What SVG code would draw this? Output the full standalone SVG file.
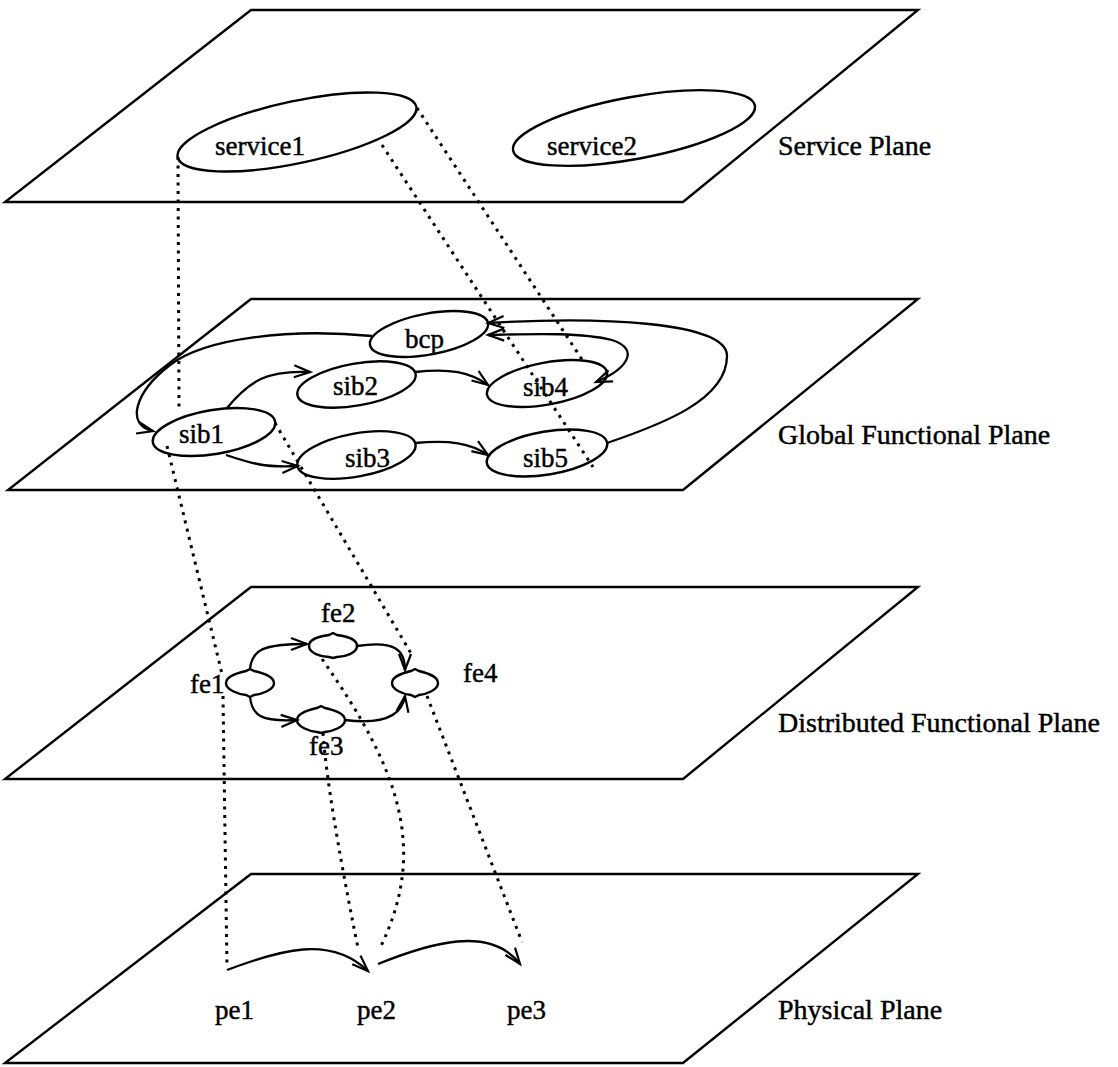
<svg xmlns="http://www.w3.org/2000/svg" width="1118" height="1067" viewBox="0 0 1118 1067">
<style>
.plane{fill:none;stroke:#000;stroke-width:2.4;stroke-linejoin:miter}
.node{fill:none;stroke:#000;stroke-width:2.4}
.edge{fill:none;stroke:#000;stroke-width:2.3;marker-end:url(#arr)}
.dot{fill:none;stroke:#000;stroke-width:3;stroke-dasharray:3 5.5}
text{font-family:"Liberation Serif","Times New Roman",serif;fill:#000;stroke:#000;stroke-width:0.45}
.lbl{font-size:27px}
.pl{font-size:28px}
</style>
<defs>
<marker id="arr" markerUnits="userSpaceOnUse" markerWidth="20" markerHeight="16" refX="17" refY="7" orient="auto-start-reverse" viewBox="0 0 20 14">
<path d="M1,1 L17,7 L1,13" fill="none" stroke="#000" stroke-width="2.2"/>
</marker>
</defs>
<rect width="1118" height="1067" fill="#fff"/>

<g id="service-plane">
<polygon class="plane" points="251,10 918,10 683,202 5,202"/>
<text class="pl" x="778" y="155">Service Plane</text>
</g>
<g id="global-functional-plane">
<polygon class="plane" points="251,299 918,299 683,490 8,490"/>
<text class="pl" x="778" y="444">Global Functional Plane</text>
</g>
<g id="distributed-functional-plane">
<polygon class="plane" points="251,587 918,587 683,779 5,779"/>
<text class="pl" x="778" y="732">Distributed Functional Plane</text>
</g>
<g id="physical-plane">
<polygon class="plane" points="251,874 918,874 683,1063 5,1063"/>
<text class="pl" x="778" y="1019">Physical Plane</text>
</g>

<g id="service1"><ellipse class="node" cx="297" cy="132" rx="122" ry="31" transform="rotate(-12 297 132)"/><text class="lbl" x="215" y="155">service1</text></g>
<g id="service2"><ellipse class="node" cx="634" cy="128" rx="123" ry="31" transform="rotate(-10.5 634 128)"/><text class="lbl" x="547" y="155">service2</text></g>

<g id="bcp"><ellipse class="node" cx="429" cy="334" rx="60" ry="20.5" transform="rotate(-10.5 429 334)"/><text class="lbl" x="405" y="348">bcp</text></g>
<g id="sib1"><ellipse class="node" cx="214" cy="432" rx="62" ry="22" transform="rotate(-9.5 214 432)"/><text class="lbl" x="179" y="443">sib1</text></g>
<g id="sib2"><ellipse class="node" cx="356.5" cy="384.5" rx="60" ry="21" transform="rotate(-10 356.5 384.5)"/><text class="lbl" x="333" y="395">sib2</text></g>
<g id="sib3"><ellipse class="node" cx="356.5" cy="455" rx="60" ry="21.5" transform="rotate(-10.5 356.5 455)"/><text class="lbl" x="345" y="467">sib3</text></g>
<g id="sib4"><ellipse class="node" cx="547" cy="383.5" rx="61" ry="21" transform="rotate(-10.5 547 383.5)"/><text class="lbl" x="523" y="396">sib4</text></g>
<g id="sib5"><ellipse class="node" cx="547" cy="453" rx="61" ry="21.5" transform="rotate(-9.5 547 453)"/><text class="lbl" x="523" y="467">sib5</text></g>

<g id="fe1"><path class="node" d="M226,683 C226,676 238,673 246,671 L250,669 L254,671 C262,673 274,676 274,683 C274,690 262,694 254,695 L250,697 L246,695 C238,694 226,690 226,683 Z"/><text class="lbl" x="190" y="693">fe1</text></g>
<g id="fe2"><path class="node" d="M309,646 C309,639 321,636 329,635 L333,633 L337,635 C345,636 357,639 357,646 C357,653 345,657 337,657 L333,658 L329,657 C321,657 309,653 309,646 Z"/><text class="lbl" x="321" y="622">fe2</text></g>
<g id="fe3"><path class="node" d="M297,720 C297,713 309,710 317,708 L321,706 L325,708 C333,710 345,713 345,720 C345,727 333,731 325,732 L321,733 L317,732 C309,731 297,727 297,720 Z"/><text class="lbl" x="309" y="755">fe3</text></g>
<g id="fe4"><path class="node" d="M392,683 C392,676 403,673 411,671 L415,669 L419,671 C427,673 438,676 438,683 C438,690 427,694 419,695 L415,697 L411,695 C403,694 392,690 392,683 Z"/><text class="lbl" x="463" y="682">fe4</text></g>

<g id="pe1"><text class="lbl" x="215" y="1019">pe1</text></g>
<g id="pe2"><text class="lbl" x="357" y="1019">pe2</text></g>
<g id="pe3"><text class="lbl" x="507" y="1019">pe3</text></g>

<g id="connectors">
<path class="edge" d="M372,336 C290,328 205,338 170,365 C135,392 125,425 153,431"/>
<path class="edge" d="M227,408 C250,380 268,370 310,372"/>
<path class="edge" d="M226,455 C250,463 265,468 298,466"/>
<path class="edge" d="M415,372 C450,368 470,372 488,385"/>
<path class="edge" d="M415,443 C450,440 470,443 488,455"/>
<path class="edge" style="marker-start:url(#arr)" d="M596,382 C625,370 642,350 612,340 C580,332 530,334 488,335"/>
<path class="edge" d="M607,443 C660,425 728,400 727,355 C725,322 600,316 488,323"/>
<path class="edge" d="M250,669 C252,650 262,644 307,644"/>
<path class="edge" d="M250,697 C252,716 262,722 297,720"/>
<path class="edge" d="M357,646 C395,640 405,650 405,670"/>
<path class="edge" d="M345,720 C385,725 402,715 405,696"/>
<path class="edge" d="M227,970 C280,950 330,935 368,971"/>
<path class="edge" d="M378,964 C430,943 490,925 520,964"/>

<path class="dot" d="M178,157 L179,409"/>
<path class="dot" d="M417,108 L583,361"/>
<path class="dot" d="M382,145 L593,467"/>
<path class="dot" d="M167,446 L222,674"/>
<path class="dot" d="M275,423 L412,655"/>
<path class="dot" d="M223,696 L227,968"/>
<path class="dot" d="M322,659 C400,770 428,850 380,948"/>
<path class="dot" d="M323,733 Q328,800 358,948"/>
<path class="dot" d="M427,696 L522,942"/>
</g>
</svg>
